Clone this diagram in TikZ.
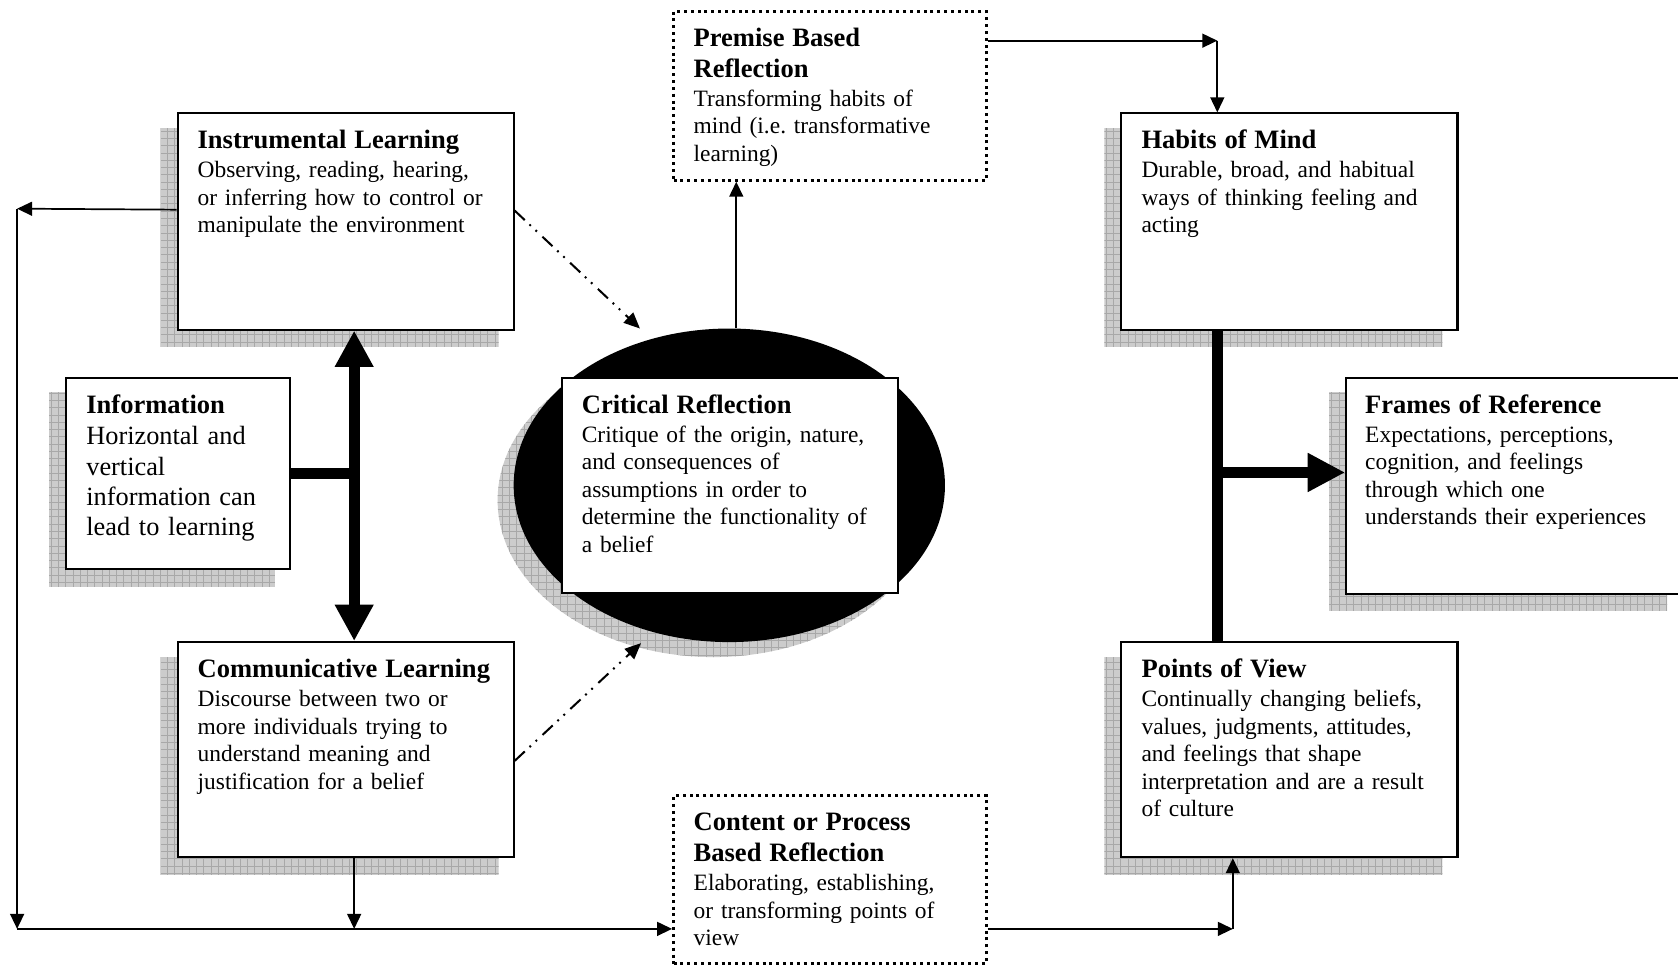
\documentclass[tikz,border=0pt]{standalone}
\usepackage{fontspec}
\setmainfont{Liberation Serif}
\usetikzlibrary{arrows.meta,shapes.geometric,calc}
\pgfdeclarelayer{background}
\pgfsetlayers{background,main}
\frenchspacing
\newcommand\boxtitle{\fontsize{24.8}{28.8}\selectfont\bfseries}
\newcommand\myshadow[1]{%
  \begin{scope}
    \clip ([shift={(-15,15)}]#1.north west) rectangle ([shift={(-15,15)}]#1.south east);
    \fill[shfill] ([shift={(-25,5)}]#1.north west) rectangle ([shift={(-5,25)}]#1.south east);
    \draw[shgrid] ([shift={(-25,5)}]#1.north west) grid ([shift={(-5,25)}]#1.south east);
  \end{scope}}
\begin{document}
\begin{tikzpicture}[x=1pt,y=-1pt,
  box/.style={rectangle, draw=black, line width=1.9pt, fill=white, inner sep=0pt, anchor=north west, minimum width=314pt, minimum height=202pt},
  dotbox/.style={rectangle, draw=black, line width=2.8pt, dash pattern=on 2.8pt off 3.6pt, fill=white, inner sep=0pt, anchor=north west, minimum width=292pt, minimum height=158pt},
  txt/.style={anchor=north west, inner sep=0pt, text width=290pt, align=left, font=\fontsize{21.9}{25.7}\selectfont},
  arr/.style={line width=1.6pt, -{Triangle[length=14pt,width=13pt]}},
  dasharr/.style={line width=1.9pt, dash pattern=on 13pt off 6pt on 1.8pt off 6pt on 1.8pt off 7pt, -{Triangle[length=15pt,width=13pt]}},
  bigboth/.style={line width=10.5pt, {Triangle[length=34pt,width=34pt]}-{Triangle[length=34pt,width=34pt]}},
  bigarr/.style={line width=11pt, -{Triangle[length=35pt,width=34pt]}},
  bar/.style={line width=10.5pt},
  shfill/.style={fill=black!20},
  shgrid/.style={draw=black!34, line width=0.5pt, step=6.8pt}]
\useasboundingbox (0,0) rectangle (1568,901);

% ---- ellipse
\node[ellipse, fill=black, draw=none, inner sep=0pt, minimum width=403pt, minimum height=293pt] (crit-ell) at (681.5,453.5) {};

% ---- boxes
\node[box] (il) at (165,105) {};
\node[box, minimum width=209pt, minimum height=179pt] (info) at (61,352) {};
\node[box, minimum height=201pt] (cl) at (165,599) {};
\node[dotbox] (prem) at (628,9) {};
\node[box, minimum height=201pt] (crit) at (524,352) {};
\node[box] (hm) at (1047,105) {};
\node[box] (fr) at (1257,352) {};
\node[box, minimum height=201pt] (pv) at (1047,599) {};
\node[dotbox, minimum height=157pt] (cont) at (628,742) {};

% ---- texts
\node[txt] (il-t) at ([shift={(19.5,14)}]il.north west) {\rule{0pt}{20pt}{\boxtitle Instrumental Learning}\\[1.3pt]
Observing, reading, hearing,\\ or inferring how to control or\\ manipulate the environment};
\node[txt, font=\fontsize{24.6}{28.2}\selectfont] (info-t) at ([shift={(19.5,14)}]info.north west) {\rule{0pt}{20pt}{\boxtitle Information}\\[1.4pt]
Horizontal and\\ vertical\\ information can\\ lead to learning};
\node[txt] (cl-t) at ([shift={(19.5,14)}]cl.north west) {\rule{0pt}{20pt}{\boxtitle Communicative Learning}\\[1.3pt]
Discourse between two or\\ more individuals trying to\\ understand meaning and\\ justification for a belief};
\node[txt] (prem-t) at ([shift={(20,14)}]prem.north west) {\rule{0pt}{20pt}{\boxtitle Premise Based}\\[3.3pt]{\boxtitle Reflection}\\[1.3pt]
Transforming habits of\\ mind (i.e. transformative\\ learning)};
\node[txt] (crit-t) at ([shift={(19.5,14)}]crit.north west) {\rule{0pt}{20pt}{\boxtitle Critical Reflection}\\[1.3pt]
Critique of the origin, nature,\\ and consequences of\\ assumptions in order to\\ determine the functionality of\\ a belief};
\node[txt] (hm-t) at ([shift={(19.5,14)}]hm.north west) {\rule{0pt}{20pt}{\boxtitle Habits of Mind}\\[1.3pt]
Durable, broad, and habitual\\ ways of thinking feeling and\\ acting};
\node[txt] (fr-t) at ([shift={(18.5,14)}]fr.north west) {\rule{0pt}{20pt}{\boxtitle Frames of Reference}\\[1.3pt]
Expectations, perceptions,\\ cognition, and feelings\\ through which one\\ understands their experiences};
\node[txt] (pv-t) at ([shift={(19.5,14)}]pv.north west) {\rule{0pt}{20pt}{\boxtitle Points of View}\\[1.3pt]
Continually changing beliefs,\\ values, judgments, attitudes,\\ and feelings that shape\\ interpretation and are a result\\ of culture};
\node[txt] (cont-t) at ([shift={(20,14)}]cont.north west) {\rule{0pt}{20pt}{\boxtitle Content or Process}\\[3.3pt]{\boxtitle Based Reflection}\\[1.3pt]
Elaborating, establishing,\\ or transforming points of\\ view};

% ---- coordinates
\coordinate (lt) at (16,195);
\coordinate (lb) at (16,868);
\coordinate (rb) at (1152,868);
\coordinate (rt) at (1137.5,38);
\coordinate (rm) at (1137.5,441.5);
\coordinate (lc) at ([xshift=8pt]il.south);
\coordinate (d1) at (598,307);
\coordinate (d2) at (599,601);

% ---- thin connectors
\draw[arr] ($(il.north west)!0.446!(il.south west)$) -- (lt);
\draw[arr] (lt) -- (lb);
\draw[arr] (lb) -- (cont.west |- lb);
\draw[arr] ([xshift=8pt]cl.south) -- ([xshift=8pt]cl.south |- lb);
\draw[arr] (cont.east |- rb) -- (rb);
\draw[arr] (rb) -- (rb |- pv.south);
\draw[arr] (prem.east |- rt) -- (rt);
\draw[arr] (rt) -- (rt |- hm.north);
\draw[arr] ([xshift=6.5pt]crit-ell.north) -- ([xshift=6.5pt]crit-ell.north |- prem.south);

% ---- dash-dot connectors
\draw[dasharr] ($(il.north east)!0.45!(il.south east)$) -- (d1);
\draw[dasharr] ($(cl.north east)!0.552!(cl.south east)$) -- (d2);

% ---- thick connectors
\draw[bar, line width=9.5pt] (info.east) -- (info.east -| lc);
\draw[bigboth] (lc) -- (lc |- cl.north);
\draw[bar] (rt |- hm.south) -- (rt |- pv.north);
\draw[bigarr] (rm) -- (rm -| fr.west);

% ---- background: page and shadows
\begin{pgfonlayer}{background}
  \fill[white] (0,0) rectangle (1568,901);
  \myshadow{il}
  \myshadow{info}
  \myshadow{cl}
  \myshadow{hm}
  \myshadow{fr}
  \myshadow{pv}
  \begin{scope}
    \clip ([shift={(-15,14)}]crit-ell.center) ellipse [x radius=201.5pt, y radius=146.5pt];
    \fill[shfill] (450,290) rectangle (900,640);
    \draw[shgrid] (450,290) grid (900,640);
  \end{scope}
\end{pgfonlayer}
\end{tikzpicture}
\end{document}
